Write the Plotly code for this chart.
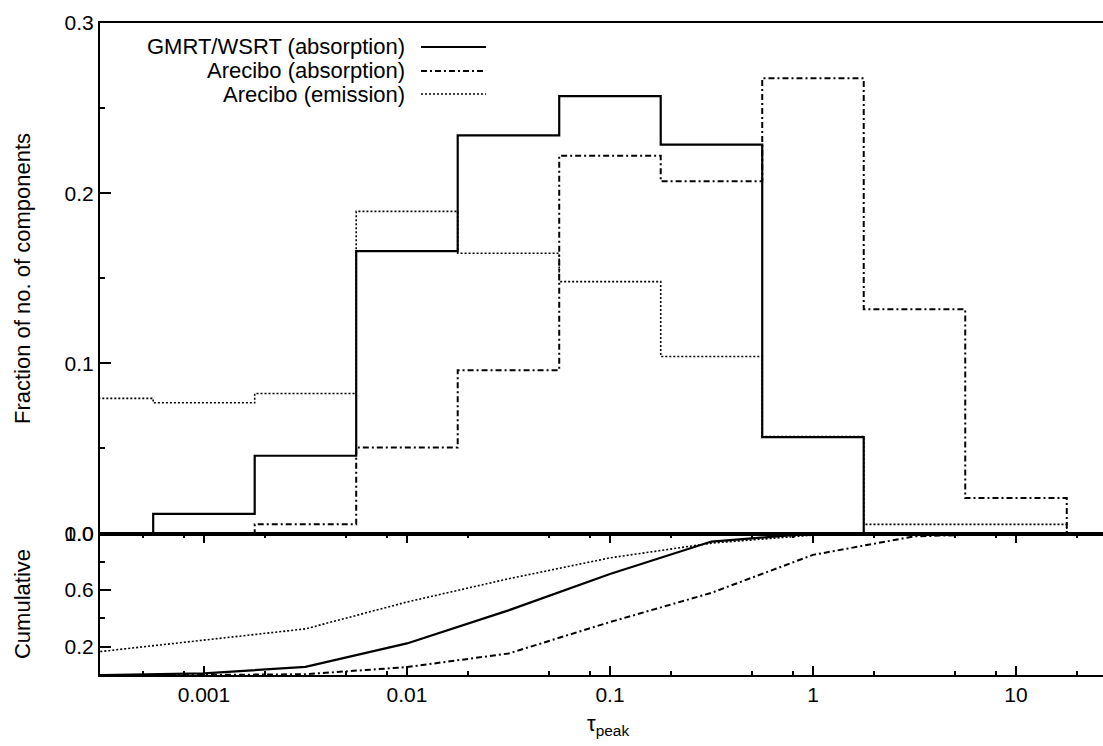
import plotly.graph_objects as go

# Histogram bin centres (log10 of tau_peak), half-decade bins
log_tau_centre = [-4.0, -3.5, -3.0, -2.5, -2.0, -1.5, -1.0, -0.5, 0.0, 0.5, 1.0, 1.5]

# Fraction of components per bin
gmrt_hist = [0.0, 0.0, 0.0115, 0.0457, 0.166, 0.234, 0.257, 0.2285, 0.0567, 0.0, 0.0, 0.0]
arecibo_abs_hist = [0.0, 0.0, 0.0, 0.0054, 0.0506, 0.096, 0.222, 0.207, 0.2676, 0.1318, 0.0208, 0.0]
arecibo_em_hist = [0.088, 0.0794, 0.0768, 0.0823, 0.1893, 0.1647, 0.148, 0.104, 0.057, 0.0054, 0.0054, 0.0]

# Cumulative fractions at the same bin centres (up to tau = 10)
log_tau_cum = [-4.0, -3.5, -3.0, -2.5, -2.0, -1.5, -1.0, -0.5, 0.0, 0.5, 1.0]
gmrt_cum = [0.0, 0.0, 0.0115, 0.057, 0.223, 0.457, 0.714, 0.943, 1.0, 1.0, 1.0]
arecibo_abs_cum = [0.0, 0.0, 0.0, 0.0054, 0.056, 0.152, 0.374, 0.581, 0.849, 0.98, 1.0]
arecibo_em_cum = [0.088, 0.167, 0.244, 0.326, 0.516, 0.680, 0.828, 0.932, 0.989, 0.995, 1.0]

series_names = ["GMRT/WSRT (absorption)", "Arecibo (absorption)", "Arecibo (emission)"]

# Axis ticks
x_major = [0.001, 0.01, 0.1, 1, 10]
x_major_text = ["0.001", "0.01", "0.1", "1", "10"]
x_minor = [m * d for d in [1e-4, 1e-3, 1e-2, 1e-1, 1, 10] for m in (2, 5, 8)]
y_top_major = [0.0, 0.1, 0.2, 0.3]
y_top_text = ["0.0", "0.1", "0.2", "0.3"]
y_top_minor = [0.05, 0.15, 0.25]
y_bot_major = [0.2, 0.6, 1.0]
y_bot_text = ["0.2", "0.6", "1.0"]
y_bot_minor = [0.4, 0.8]

tau_hist = [10 ** v for v in log_tau_centre]
tau_cum = [10 ** v for v in log_tau_cum]

FONT = "Liberation Sans, Arial, Helvetica, sans-serif"
styles = [
    dict(color="black", width=2.2, dash="solid"),
    dict(color="black", width=2, dash="6px,3px,2px,3px"),
    dict(color="black", width=1.6, dash="2px,2px"),
]

fig = go.Figure()

hists = [gmrt_hist, arecibo_abs_hist, arecibo_em_hist]
cums = [gmrt_cum, arecibo_abs_cum, arecibo_em_cum]

# draw emission first so the absorption steps sit on top
for i in [2, 1, 0]:
    fig.add_trace(go.Scatter(
        x=tau_hist, y=hists[i], mode="lines", line_shape="hvh",
        line=styles[i], name=series_names[i], xaxis="x2", yaxis="y2",
        showlegend=False, hoverinfo="skip"))
for i in [2, 1, 0]:
    fig.add_trace(go.Scatter(
        x=tau_cum, y=cums[i], mode="lines",
        line=styles[i], name=series_names[i], xaxis="x", yaxis="y",
        showlegend=False, hoverinfo="skip"))

x_lo, x_hi = -3.512, 1.4286
split = 0.217
tick_font = dict(family=FONT, size=21, color="black")
text_font = dict(family=FONT, size=22, color="black")

fig.update_layout(
    width=1103, height=746,
    margin=dict(l=100, r=0, t=23, b=71),
    paper_bgcolor="white", plot_bgcolor="white",
    font=tick_font,
    showlegend=False,
    xaxis=dict(
        domain=[0, 1], anchor="y", type="log", range=[x_lo, x_hi],
        tickmode="array", tickvals=x_major, ticktext=x_major_text,
        ticks="inside", ticklen=9, tickwidth=1.5, tickcolor="black",
        showline=True, linewidth=2, linecolor="black", mirror="ticks",
        showgrid=False, zeroline=False, tickfont=tick_font,
        minor=dict(tickmode="array", tickvals=x_minor, ticks="inside",
                   ticklen=4, tickwidth=1.5, tickcolor="black", showgrid=False),
    ),
    yaxis=dict(
        domain=[0, split], anchor="x", range=[0, 1.0],
        tickmode="array", tickvals=y_bot_major, ticktext=y_bot_text,
        ticks="inside", ticklen=11, tickwidth=1.5, tickcolor="black",
        showline=True, linewidth=2, linecolor="black", mirror=False,
        showgrid=False, zeroline=False, tickfont=tick_font,
        minor=dict(tickmode="array", tickvals=y_bot_minor, ticks="inside",
                   ticklen=5, tickwidth=1.5, tickcolor="black", showgrid=False),
    ),
    xaxis2=dict(
        domain=[0, 1], anchor="y2", type="log", range=[x_lo, x_hi],
        matches="x", showticklabels=False, ticks="",
        showline=True, linewidth=2, linecolor="black", mirror=True,
        showgrid=False, zeroline=False,
    ),
    yaxis2=dict(
        domain=[split, 1], anchor="x2", range=[0, 0.3],
        tickmode="array", tickvals=y_top_major, ticktext=y_top_text,
        ticks="inside", ticklen=11, tickwidth=1.5, tickcolor="black",
        showline=True, linewidth=2, linecolor="black", mirror=False,
        showgrid=False, zeroline=False, tickfont=tick_font,
        minor=dict(tickmode="array", tickvals=y_top_minor, ticks="inside",
                   ticklen=5, tickwidth=1.5, tickcolor="black", showgrid=False),
    ),
)

# axis titles
fig.add_annotation(text="Fraction of no. of components", textangle=-90,
                   xref="paper", yref="paper", x=-0.078, y=(1 + split) / 2,
                   xanchor="center", yanchor="middle", showarrow=False,
                   font=text_font)
fig.add_annotation(text="Cumulative", textangle=-90,
                   xref="paper", yref="paper", x=-0.078, y=split / 2,
                   xanchor="center", yanchor="middle", showarrow=False,
                   font=text_font)
fig.add_annotation(text="τ<sub>peak</sub>",
                   xref="paper", yref="paper", x=0.5065, y=-0.077,
                   xanchor="center", yanchor="middle", showarrow=False,
                   font=text_font)

# key: right-aligned labels with line samples to their right
key_rows = [0.9632, 0.9264, 0.8911]
for name, style, yk in zip(series_names, styles, key_rows):
    fig.add_annotation(text=name, xref="paper", yref="paper", x=0.3061, y=yk,
                       xanchor="right", yanchor="middle", showarrow=False,
                       font=text_font)
    fig.add_shape(type="line", xref="paper", yref="paper",
                  x0=0.320, x1=0.3848, y0=yk, y1=yk, line=style)

fig.write_html("out.html")
